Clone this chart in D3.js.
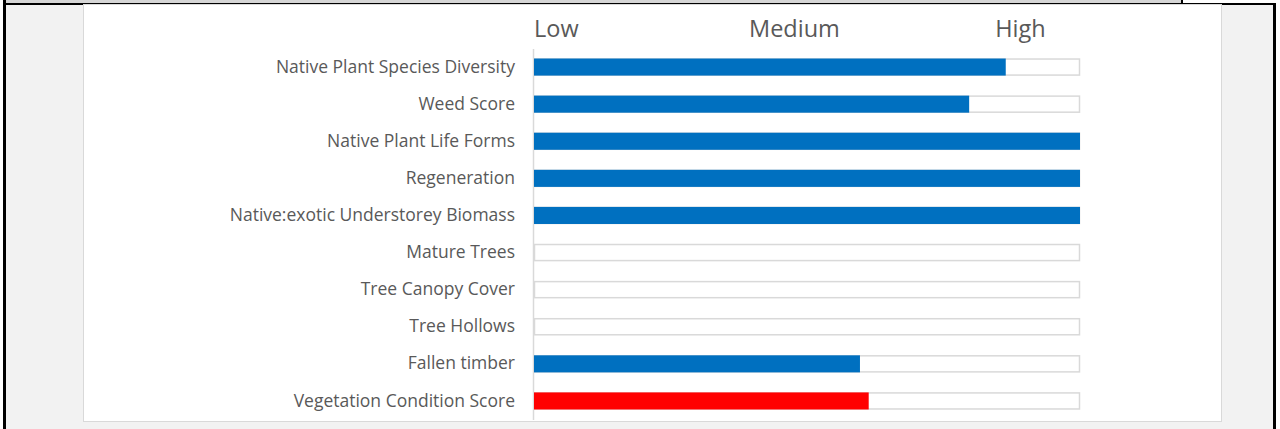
<!DOCTYPE html>
<html>
<head>
<meta charset="utf-8">
<script src="https://cdn.jsdelivr.net/npm/d3@7"></script>
<style>
  html, body { margin: 0; padding: 0; background: #ffffff; }
  svg { display: block; }
</style>
</head>
<body>
<svg id="chart" width="1280" height="429"></svg>
<script>
const categories = [
  "Native Plant Species Diversity",
  "Weed Score",
  "Native Plant Life Forms",
  "Regeneration",
  "Native:exotic Understorey Biomass",
  "Mature Trees",
  "Tree Canopy Cover",
  "Tree Hollows",
  "Fallen timber",
  "Vegetation Condition Score"
];
const values = [86.4, 79.7, 100, 100, 100, 0, 0, 0, 59.7, 61.3];
const highlight = [false, false, false, false, false, false, false, false, false, true];
const tickLabels = ["Low", "Medium", "High"];
const tickValues = [4, 47.6, 89];

const svg = d3.select("#chart");
const W = 1280, H = 429;

// page frame (screenshot of a document)
svg.append("rect").attr("x", 0).attr("y", 0).attr("width", W).attr("height", H).attr("fill", "#ffffff");
svg.append("rect").attr("x", 6).attr("y", 0).attr("width", 1267).attr("height", H).attr("fill", "#f2f2f2");
svg.append("rect").attr("x", 6).attr("y", 0).attr("width", 1176).attr("height", 4).attr("fill", "#d6d6d6");
svg.append("rect").attr("x", 1182).attr("y", 0).attr("width", 91).attr("height", 4).attr("fill", "#ffffff");
svg.append("rect").attr("x", 1181).attr("y", 0).attr("width", 2).attr("height", 4).attr("fill", "#000");
svg.append("rect").attr("x", 4).attr("y", 3).attr("width", 1272).attr("height", 2).attr("fill", "#000");
svg.append("rect").attr("x", 3).attr("y", 0).attr("width", 3).attr("height", H).attr("fill", "#000");
svg.append("rect").attr("x", 1273).attr("y", 3).attr("width", 3).attr("height", H).attr("fill", "#000");

// chart area
svg.append("rect").attr("x", 83.5).attr("y", 4.5).attr("width", 1138).attr("height", 417)
  .attr("fill", "#ffffff").attr("stroke", "#d9d9d9").attr("stroke-width", 1);

const x0 = 534, x1 = 1080;
const x = d3.scaleLinear().domain([0, 100]).range([x0, x1]);
const y = d3.scaleBand().domain(categories).range([48.5, 419.5]).paddingInner(0.54).paddingOuter(0.27);

const font = "'Open Sans', 'Noto Sans', sans-serif";

// top axis labels
const axisTop = d3.axisTop(x).tickValues(tickValues).tickFormat((d, i) => tickLabels[i]).tickSize(0).tickPadding(0);
const gTop = svg.append("g").attr("transform", "translate(0,37)").call(axisTop);
gTop.select(".domain").remove();
gTop.selectAll("text").attr("font-family", font).attr("font-size", 23.5).attr("fill", "#595959");

// category axis
const axisLeft = d3.axisLeft(y).tickSize(0).tickPadding(18);
const gLeft = svg.append("g").attr("transform", `translate(${x0 - 1},0)`).call(axisLeft);
gLeft.select(".domain").attr("stroke", "#d9d9d9").attr("stroke-width", 1.5);
gLeft.selectAll("text").attr("font-family", font).attr("font-size", 17.5).attr("fill", "#595959");

// tracks
svg.append("g").selectAll("rect").data(categories).join("rect")
  .attr("x", x(0) + 0.5).attr("y", d => y(d) + 0.5)
  .attr("width", x(100) - x(0) - 1).attr("height", y.bandwidth() - 1)
  .attr("fill", "#ffffff").attr("stroke", "#d9d9d9").attr("stroke-width", 1.5);

// bars
svg.append("g").selectAll("rect").data(categories).join("rect")
  .attr("x", x(0)).attr("y", d => y(d))
  .attr("width", (d, i) => x(values[i]) - x(0)).attr("height", y.bandwidth())
  .attr("fill", (d, i) => highlight[i] ? "#ff0000" : "#0070c0");
</script>
</body>
</html>
